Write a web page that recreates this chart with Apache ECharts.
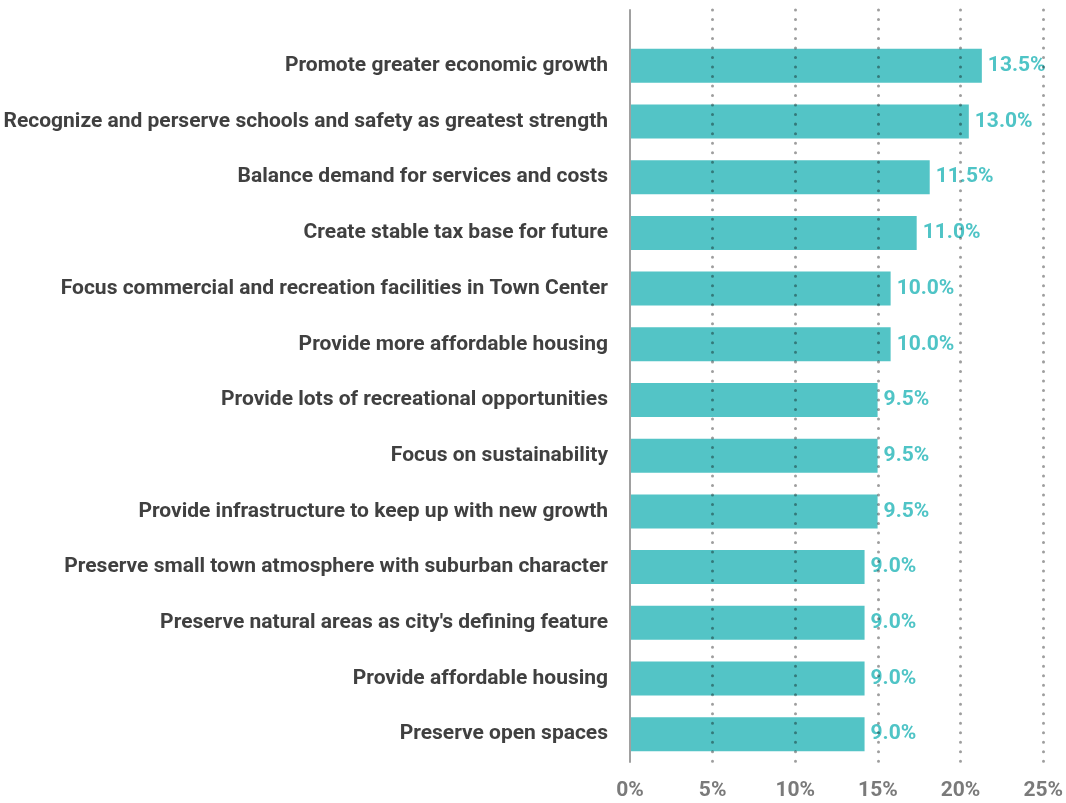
<!DOCTYPE html>
<html lang="en">
<head>
    <meta charset="UTF-8">
    <title>Priorities</title>
    <script src="https://cdn.jsdelivr.net/npm/echarts@6/dist/echarts.min.js"></script>
    <style>
        html, body { margin: 0; padding: 0; background: #fff; }
        #main { width: 1066px; height: 803px; }
    </style>
</head>
<body>
    <div id="main"></div>
</body>
<script>
    var categories = [
        'Promote greater economic growth',
        'Recognize and perserve schools and safety as greatest strength',
        'Balance demand for services and costs',
        'Create stable tax base for future',
        'Focus commercial and recreation facilities in Town Center',
        'Provide more affordable housing',
        'Provide lots of recreational opportunities',
        'Focus on sustainability',
        'Provide infrastructure to keep up with new growth',
        'Preserve small town atmosphere with suburban character',
        "Preserve natural areas as city's defining feature",
        'Provide affordable housing',
        'Preserve open spaces'
    ];
    var shares = [13.5, 13.0, 11.5, 11.0, 10.0, 10.0, 9.5, 9.5, 9.5, 9.0, 9.0, 9.0, 9.0];
    var tickLabels = ['0%', '5%', '10%', '15%', '20%', '25%'];

    var font = 'Roboto, sans-serif';

    var chart = echarts.init(document.getElementById('main'));
    var option = {
        animation: false,
        grid: [
            { left: 630, right: 19, top: 10, bottom: 41 },
            { left: 630, right: 19, top: 38, bottom: 41 }
        ],
        xAxis: [{
            // visible percentage scale, dots drawn over the bars
            gridIndex: 0,
            type: 'value',
            min: 0,
            max: 25,
            interval: 5,
            z: 5,
            axisLine: { show: false },
            axisTick: { show: false },
            axisLabel: {
                margin: 18,
                color: '#7a7a7a',
                fontFamily: font,
                fontWeight: 'bold',
                fontSize: 21,
                formatter: function(v) { return tickLabels[v / 5]; }
            },
            splitLine: {
                show: true,
                showMinLine: false,
                lineStyle: {
                    color: 'rgba(0,0,0,0.38)',
                    width: 3,
                    type: [0.01, 9.5],
                    cap: 'round'
                }
            }
        }, {
            // scale used by the bars
            gridIndex: 1,
            type: 'value',
            min: 0,
            max: 16,
            show: false
        }],
        yAxis: [{
            gridIndex: 0,
            type: 'value',
            min: 0,
            max: 1,
            z: 6,
            axisLine: { show: true, lineStyle: { color: '#a0a0a0', width: 2 } },
            axisTick: { show: false },
            axisLabel: { show: false },
            splitLine: { show: false }
        }, {
            gridIndex: 1,
            type: 'category',
            inverse: true,
            data: categories,
            axisLine: { show: false },
            axisTick: { show: false },
            axisLabel: {
                margin: 22,
                color: '#404040',
                fontFamily: font,
                fontWeight: 'bold',
                fontSize: 21
            }
        }],
        series: [{
            type: 'bar',
            xAxisIndex: 1,
            yAxisIndex: 1,
            barWidth: 34,
            data: shares,
            itemStyle: { color: '#53c4c6' },
            label: {
                show: true,
                position: 'right',
                distance: 6,
                color: '#4fc4c6',
                fontFamily: font,
                fontWeight: 'bold',
                fontSize: 21,
                formatter: function(p) { return p.value.toFixed(1) + '%'; }
            }
        }]
    };
    chart.setOption(option);
</script>
</html>
